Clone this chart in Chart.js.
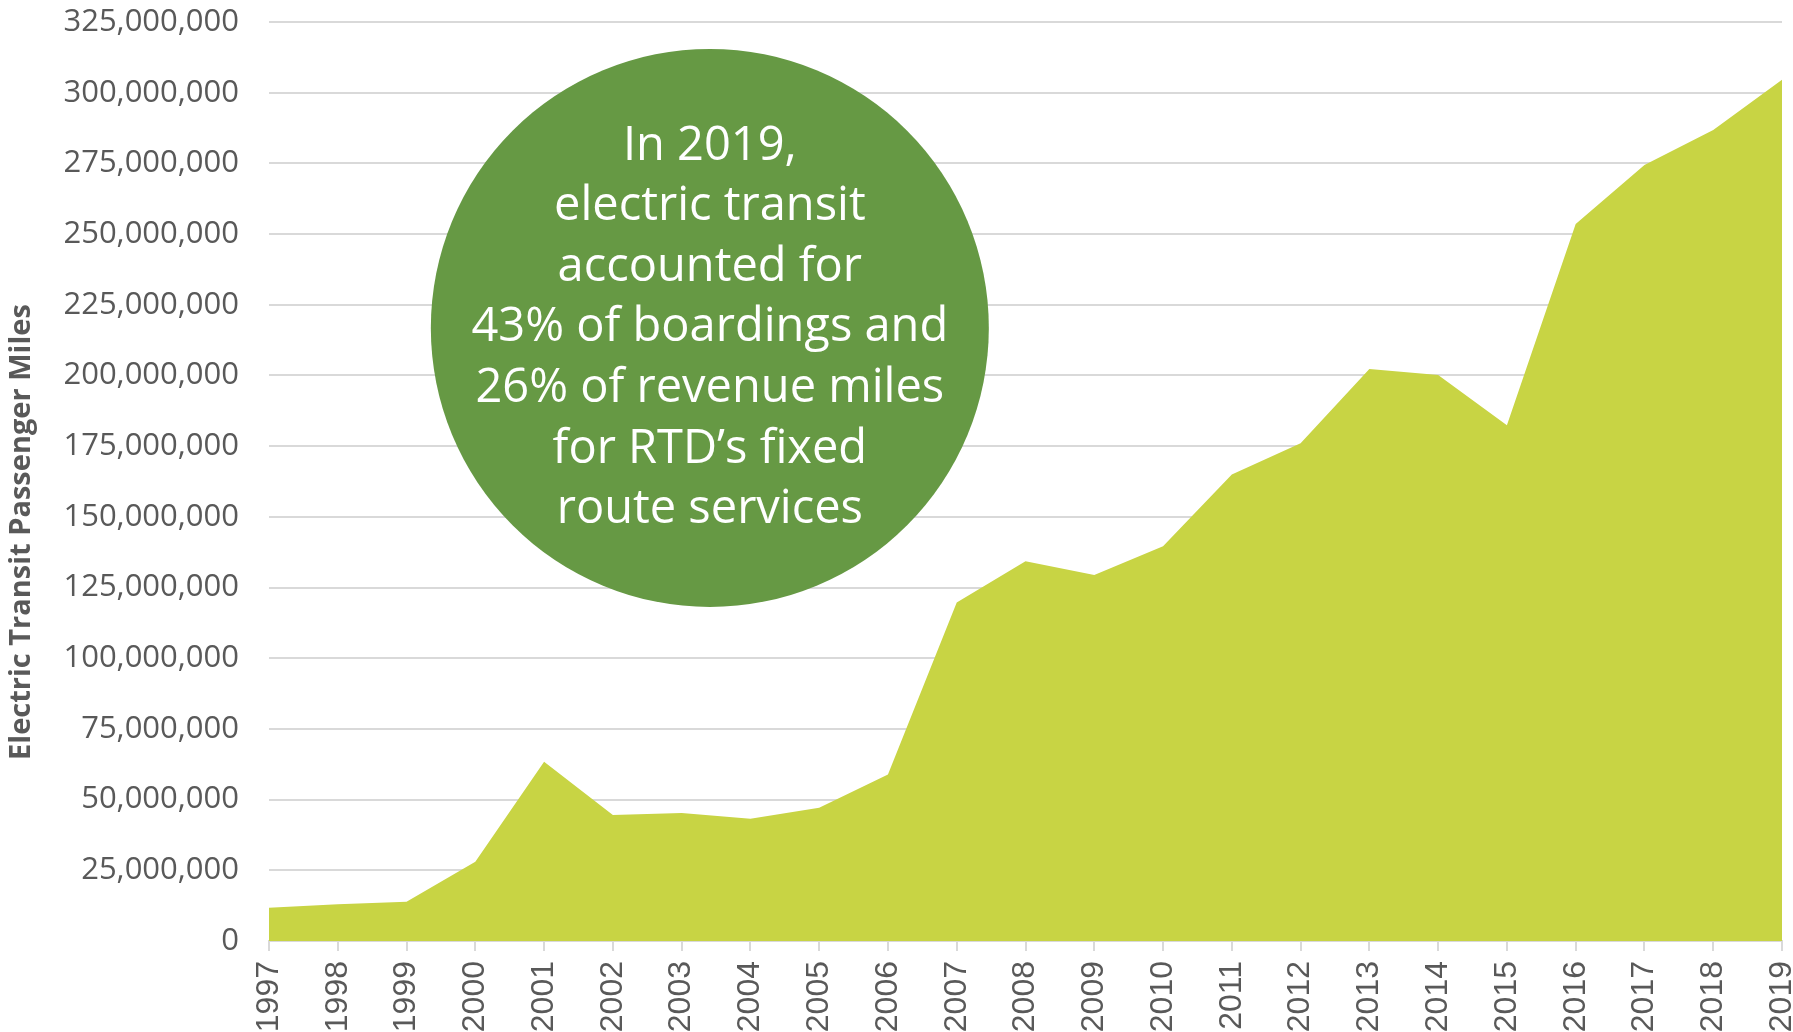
<!DOCTYPE html>
<html>
<head>
<meta charset="utf-8">
<script src="https://cdn.jsdelivr.net/npm/chart.js@4/dist/chart.umd.min.js"></script>
<style>
  html, body { margin: 0; padding: 0; background: #fff; }
  #wrap { width: 1793px; height: 1032px; }
</style>
</head>
<body>
<div id="wrap"><canvas id="miles-chart" width="1793" height="1032"></canvas></div>
<script>
// years on the x axis
var years = ['1997','1998','1999','2000','2001','2002','2003','2004','2005','2006','2007','2008',
             '2009','2010','2011','2012','2013','2014','2015','2016','2017','2018','2019'];

// electric transit passenger miles
var passengerMiles = [11800000, 13000000, 13900000, 28000000, 63400000, 44600000, 45300000, 43200000,
                      47100000, 58900000, 119700000, 134300000, 129400000, 139600000, 165000000, 176000000,
                      202300000, 200200000, 182400000, 253600000, 274400000, 286800000, 304600000];

// callout text inside the green circle
var calloutLines = ['In 2019,', 'electric transit', 'accounted for', '43% of boardings and',
                    '26% of revenue miles', 'for RTD\u2019s fixed', 'route services'];

var yTitle = 'Electric Transit Passenger Miles';

var textGrey = '#595959';
var gridGrey = '#d9d9d9';

// green bubble, placed in data space (year index / miles)
var calloutPlugin = {
  id: 'callout',
  afterDatasetsDraw: function(chart) {
    var ctx = chart.ctx;
    var xs = chart.scales.x, ys = chart.scales.y;
    var cx = xs.getPixelForValue(6.41);
    var cy = ys.getPixelForValue(216800000);
    var r = 279;
    ctx.save();
    ctx.beginPath();
    ctx.arc(cx, cy, r, 0, Math.PI * 2);
    ctx.fillStyle = '#669944';
    ctx.fill();
    ctx.fillStyle = '#ffffff';
    ctx.font = '47px "Open Sans"';
    ctx.textAlign = 'center';
    ctx.textBaseline = 'middle';
    var lh = 60.6;
    var top = cy - lh * (calloutLines.length - 1) / 2;
    calloutLines.forEach(function(t, i) {
      ctx.fillText(t, cx, top + i * lh);
    });
    ctx.restore();
  }
};

// the axis title sits a bit below the middle of the axis in the original, so draw it by hand
var yTitlePlugin = {
  id: 'ytitle',
  afterDraw: function(chart) {
    var ctx = chart.ctx;
    var area = chart.chartArea;
    var cy = area.top + (area.bottom - area.top) * 0.555;
    ctx.save();
    ctx.translate(22, cy);
    ctx.rotate(-Math.PI / 2);
    ctx.fillStyle = textGrey;
    ctx.font = 'bold 29px "Open Sans"';
    ctx.textAlign = 'center';
    ctx.textBaseline = 'middle';
    ctx.fillText(yTitle, 0, 0);
    ctx.restore();
  }
};

var ctx1 = document.getElementById('miles-chart').getContext('2d');

var areaChart = new Chart(ctx1, {
  type: 'line',
  data: {
    labels: years,
    datasets: [{
      label: yTitle,
      data: passengerMiles,
      fill: 'origin',
      backgroundColor: '#c8d444',
      borderColor: '#c8d444',
      borderWidth: 0,
      pointRadius: 0,
      tension: 0
    }]
  },
  options: {
    responsive: false,
    animation: false,
    layout: { padding: { top: 22, right: 11, left: 0, bottom: 0 } },
    plugins: {
      legend: { display: false },
      tooltip: { enabled: false }
    },
    scales: {
      x: {
        offset: false,
        grid: {
          drawOnChartArea: false,
          drawTicks: true,
          tickLength: 10,
          color: gridGrey,
          lineWidth: 2
        },
        border: { display: true, color: gridGrey, width: 2 },
        ticks: {
          color: textGrey,
          font: { family: 'Liberation Sans', size: 32 },
          minRotation: 90,
          maxRotation: 90,
          autoSkip: false,
          padding: 10
        },
        afterFit: function(s) {
          s.height = 91;
          s.paddingLeft = 0;
          s.paddingRight = 0;
        }
      },
      y: {
        min: 0,
        max: 325000000,
        grid: { color: gridGrey, lineWidth: 2, drawTicks: false },
        border: { display: false },
        ticks: {
          stepSize: 25000000,
          color: textGrey,
          padding: 30,
          font: { family: 'Open Sans', size: 31 },
          callback: function(v) { return v.toLocaleString('en-US'); }
        },
        afterFit: function(s) {
          s.width = 269;
          s.paddingTop = 0;
          s.paddingBottom = 0;
        }
      }
    }
  },
  plugins: [calloutPlugin, yTitlePlugin]
});
</script>
</body>
</html>
